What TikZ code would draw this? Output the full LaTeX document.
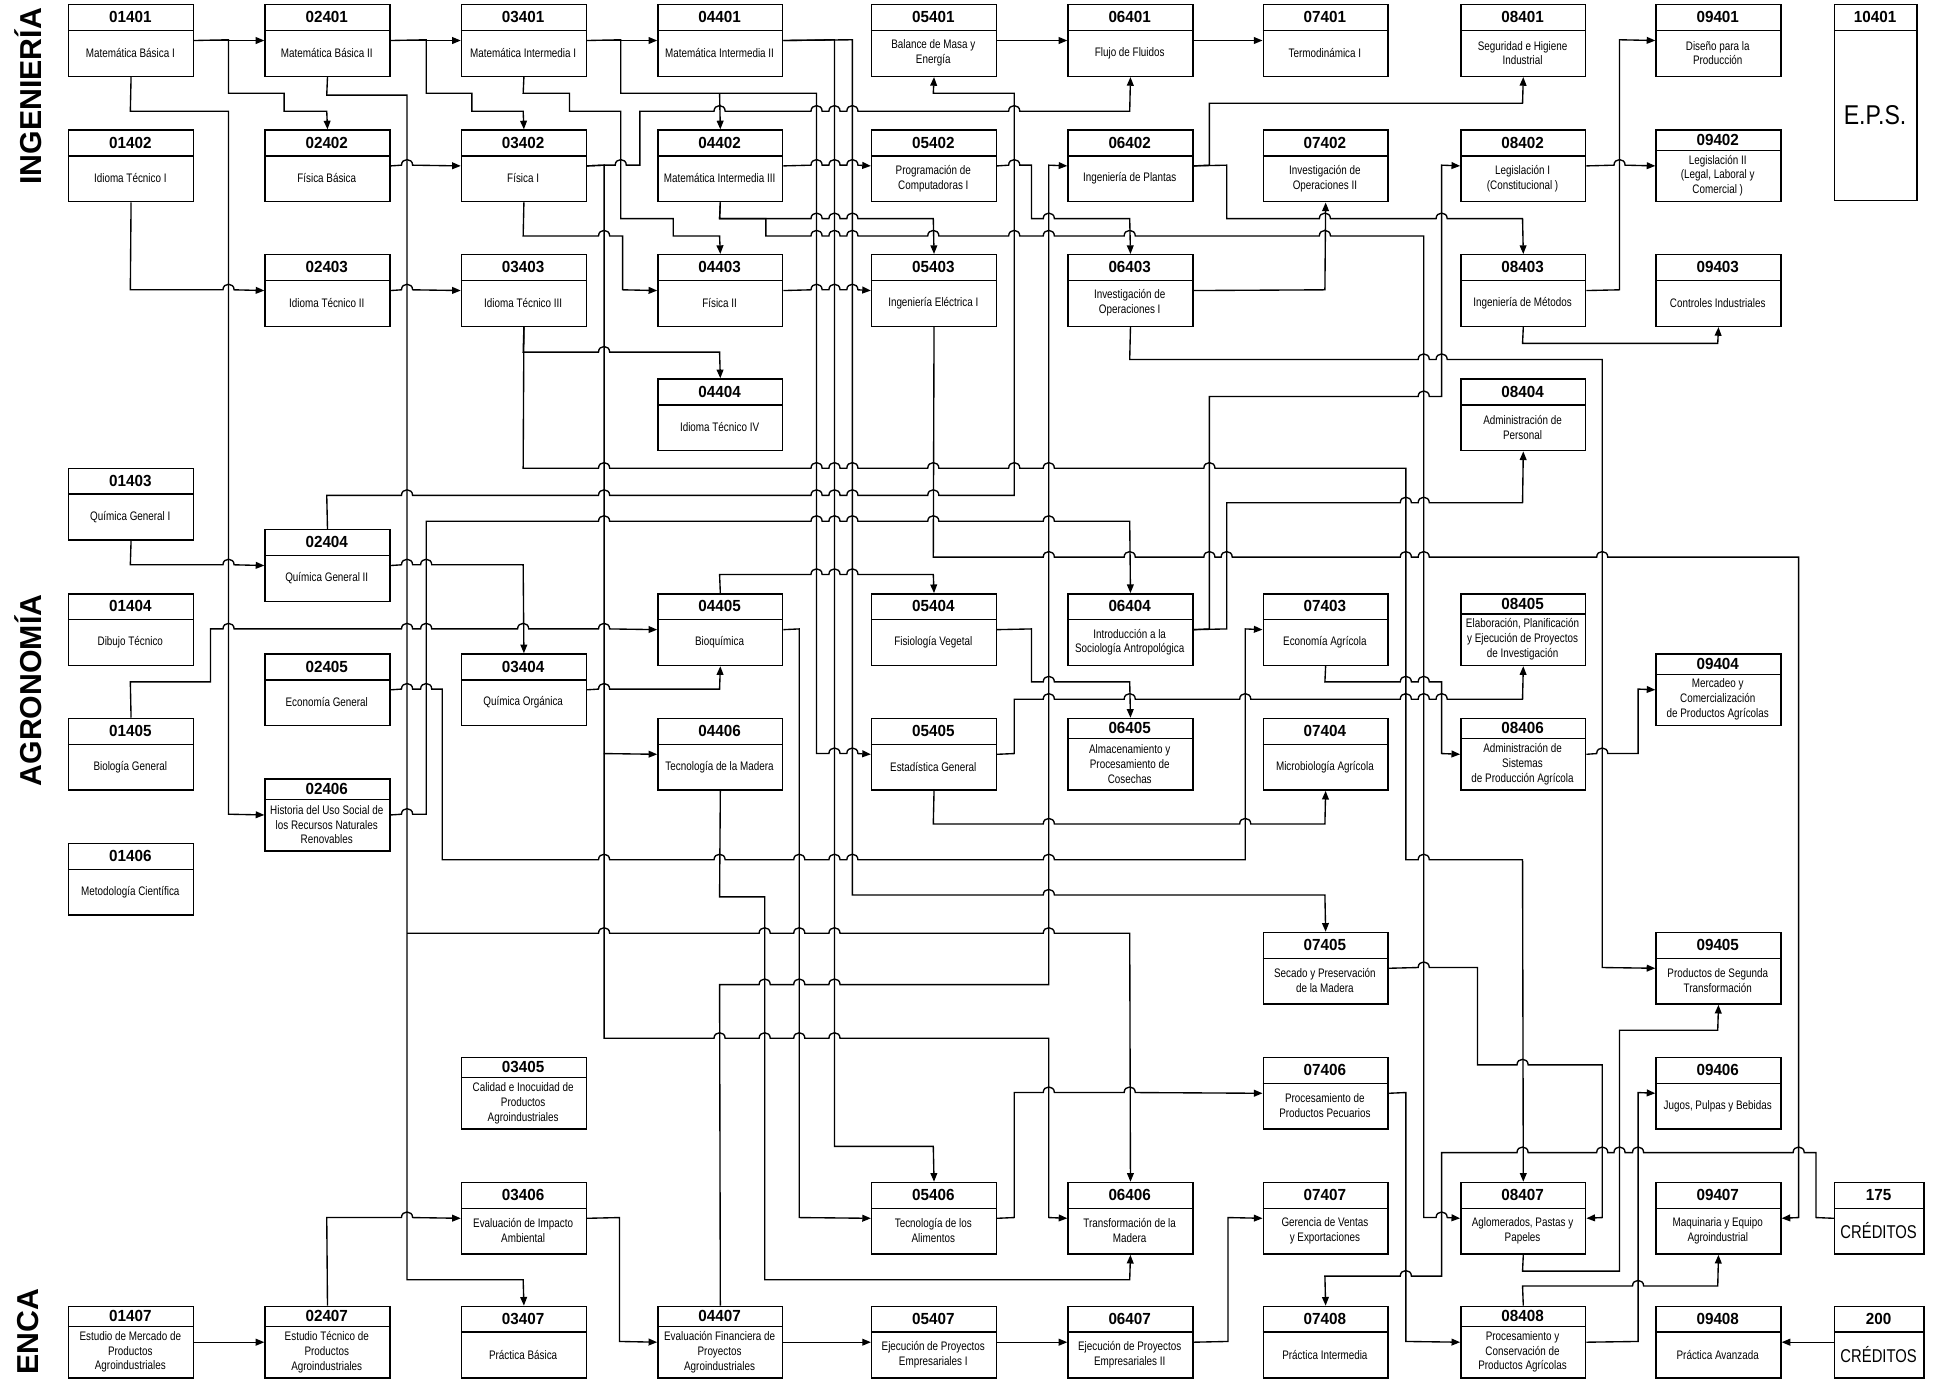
\documentclass[tikz,border=0pt]{standalone}
\usepackage{fontspec}
\usetikzlibrary{arrows.meta}
\setmainfont{Liberation Sans}
\newfontfamily\narrowf[FakeStretch=0.8]{Liberation Sans}
\newfontfamily\epsf[FakeStretch=0.85]{Liberation Sans}
\newfontfamily\codef[FakeStretch=0.95]{Liberation Sans}
\newfontfamily\sidef{Liberation Sans}

\newcommand\jmp[2]{-- ({#1-4.5},#2) .. controls ({#1-4.5},{#2-6}) and ({#1+4.5},{#2-6}) .. ({#1+4.5},#2)}
\newcommand\jmpl[2]{-- ({#1+4.5},#2) .. controls ({#1+4.5},{#2-6}) and ({#1-4.5},{#2-6}) .. ({#1-4.5},#2)}

\tikzset{
  con/.style={line width=1.1pt},
  arr/.style={con,-{Triangle[length=7pt,width=5.5pt]}},
  boxn/.style={draw,line width=1.2pt,minimum width=101pt,minimum height=58pt,inner sep=0pt,anchor=north west},
  boxline/.style={line width=1.2pt},
  codet/.style={font=\codef\bfseries\fontsize{13}{14}\selectfont,inner sep=0pt},
  desct/.style={font=\narrowf\fontsize{10}{12}\selectfont,align=center,inner sep=0pt},
  sidet/.style={font=\sidef\bfseries\fontsize{24.5}{26}\selectfont,inner sep=0pt,rotate=90},
  credt/.style={font=\narrowf\fontsize{15}{16}\selectfont,inner sep=0pt},
}

\newcommand\course[5]{%
  \node[boxn] (n#1) at (#2,#3) {};
  \draw[boxline] (#2,{#3+#4}) -- ({#2+101},{#3+#4});
  \node[codet] (c#1) at ({#2+50.5},{#3+#4/2}) {#1};
  \node[desct] (d#1) at ({#2+50.5},{#3+(58+#4)/2}) {#5};
}

\begin{document}
\begin{tikzpicture}[x=1pt,y=-1pt]
\useasboundingbox (0,0) rectangle (1568,1116);

% side labels
\node[sidet] (lab1) at (23,78) {INGENIERÍA};
\node[sidet] (lab2) at (23,559) {AGRONOMÍA};
\node[sidet] (lab3) at (23,1078) {ENCA};

% courses
\course{01401}{55}{3.2}{21.5}{Matemática Básica I}
\course{01402}{55}{104.7}{21.5}{Idioma Técnico I}
\course{01403}{55}{378.5}{21.5}{Química General I}
\course{01404}{55}{480.1}{21.5}{Dibujo Técnico}
\course{01405}{55}{581}{21.5}{Biología General}
\course{01406}{55}{682.2}{21.5}{Metodología Científica}
\course{01407}{55}{1056.9}{17}{Estudio de Mercado de\\Productos\\Agroindustriales}
\course{02401}{214}{3.2}{21.5}{Matemática Básica II}
\course{02402}{214}{104.7}{21.5}{Física Básica}
\course{02403}{214}{205.6}{21.5}{Idioma Técnico II}
\course{02404}{214}{428.2}{21.5}{Química General II}
\course{02405}{214}{528.8}{21.5}{Economía General}
\course{02406}{214}{630.1}{17}{Historia del Uso Social de\\los Recursos Naturales\\Renovables}
\course{02407}{214}{1056.9}{17}{Estudio Técnico de\\Productos\\Agroindustriales}
\course{03401}{373}{3.2}{21.5}{Matemática Intermedia I}
\course{03402}{373}{104.7}{21.5}{Física I}
\course{03403}{373}{205.6}{21.5}{Idioma Técnico III}
\course{03404}{373}{528.8}{21.5}{Química Orgánica}
\course{03405}{373}{855.4}{17}{Calidad e Inocuidad de\\Productos\\Agroindustriales}
\course{03406}{373}{956.6}{21.5}{Evaluación de Impacto\\Ambiental}
\course{03407}{373}{1056.9}{21.5}{Práctica Básica}
\course{04401}{532}{3.2}{21.5}{Matemática Intermedia II}
\course{04402}{532}{104.7}{21.5}{Matemática Intermedia III}
\course{04403}{532}{205.6}{21.5}{Física II}
\course{04404}{532}{306.2}{21.5}{Idioma Técnico IV}
\course{04405}{532}{480.1}{21.5}{Bioquímica}
\course{04406}{532}{581}{21.5}{Tecnología de la Madera}
\course{04407}{532}{1056.9}{17}{Evaluación Financiera de\\Proyectos\\Agroindustriales}
\course{05401}{705}{3.2}{21.5}{Balance de Masa y\\Energía}
\course{05402}{705}{104.7}{21.5}{Programación de\\Computadoras I}
\course{05403}{705}{205.6}{21.5}{Ingeniería Eléctrica I}
\course{05404}{705}{480.1}{21.5}{Fisiología Vegetal}
\course{05405}{705}{581}{21.5}{Estadística General}
\course{05406}{705}{956.6}{21.5}{Tecnología de los\\Alimentos}
\course{05407}{705}{1056.9}{21.5}{Ejecución de Proyectos\\Empresariales I}
\course{06401}{864}{3.2}{21.5}{Flujo de Fluidos}
\course{06402}{864}{104.7}{21.5}{Ingeniería de Plantas}
\course{06403}{864}{205.6}{21.5}{Investigación de\\Operaciones I}
\course{06404}{864}{480.1}{21.5}{Introducción a la\\Sociología Antropológica}
\course{06405}{864}{581}{17}{Almacenamiento y\\Procesamiento de\\Cosechas}
\course{06406}{864}{956.6}{21.5}{Transformación de la\\Madera}
\course{06407}{864}{1056.9}{21.5}{Ejecución de Proyectos\\Empresariales II}
\course{07401}{1022}{3.2}{21.5}{Termodinámica I}
\course{07402}{1022}{104.7}{21.5}{Investigación de\\Operaciones II}
\course{07403}{1022}{480.1}{21.5}{Economía Agrícola}
\course{07404}{1022}{581}{21.5}{Microbiología Agrícola}
\course{07405}{1022}{754.2}{21.5}{Secado y Preservación\\de la Madera}
\course{07406}{1022}{855.4}{21.5}{Procesamiento de\\Productos Pecuarios}
\course{07407}{1022}{956.6}{21.5}{Gerencia de Ventas\\y Exportaciones}
\course{07408}{1022}{1056.9}{21.5}{Práctica Intermedia}
\course{08401}{1182}{3.2}{21.5}{Seguridad e Higiene\\Industrial}
\course{08402}{1182}{104.7}{21.5}{Legislación I\\(Constitucional )}
\course{08403}{1182}{205.6}{21.5}{Ingeniería de Métodos}
\course{08404}{1182}{306.2}{21.5}{Administración de\\Personal}
\course{08405}{1182}{480.1}{17}{Elaboración, Planificación\\y Ejecución de Proyectos\\de Investigación}
\course{08406}{1182}{581}{17}{Administración de\\Sistemas\\de Producción Agrícola}
\course{08407}{1182}{956.6}{21.5}{Aglomerados, Pastas y\\Papeles}
\course{08408}{1182}{1056.9}{17}{Procesamiento y\\Conservación de\\Productos Agrícolas}
\course{09401}{1340}{3.2}{21.5}{Diseño para la\\Producción}
\course{09402}{1340}{104.7}{17}{Legislación II\\(Legal, Laboral y\\Comercial )}
\course{09403}{1340}{205.6}{21.5}{Controles Industriales}
\course{09404}{1340}{528.8}{17}{Mercadeo y\\Comercialización\\de Productos Agrícolas}
\course{09405}{1340}{754.2}{21.5}{Productos de Segunda\\Transformación}
\course{09406}{1340}{855.4}{21.5}{Jugos, Pulpas y Bebidas}
\course{09407}{1340}{956.6}{21.5}{Maquinaria y Equipo\\Agroindustrial}
\course{09408}{1340}{1056.9}{21.5}{Práctica Avanzada}

% special boxes
\node[boxn,minimum width=66.5pt,minimum height=158.7pt] (n10401) at (1484.6,3.2) {};
\draw[boxline] (1484.6,24.7) -- (1551.1,24.7);
\node[codet] (c10401) at (1517.85,13.95) {10401};
\node[font=\epsf\fontsize{22}{24}\selectfont,inner sep=0pt] (eps) at (1517.85,93) {E.P.S.};

\node[boxn,minimum width=72.3pt] (n175) at (1484.6,956.6) {};
\draw[boxline] (1484.6,978.1) -- (1556.9,978.1);
\node[codet] (c175) at (1520.75,967.35) {175};
\node[credt] (cr175) at (1520.75,996.3) {CRÉDITOS};

\node[boxn,minimum width=72.3pt] (n200) at (1484.6,1056.9) {};
\draw[boxline] (1484.6,1078.4) -- (1556.9,1078.4);
\node[codet] (c200) at (1520.75,1067.65) {200};
\node[credt] (cr200) at (1520.75,1096.6) {CRÉDITOS};

% connectors
\draw[arr] (n01401.east) -- (n02401.west);
\draw[arr] (n01401.east) -- (185,32.2) -- (185,75.5) -- (230,75.5) -- (230,90) -- (264.5,90) -- (n02402.north);
\draw[arr] (n01401.south) -- (105.5,90) -- (185,90) -- (185,659.1) -- (n02406.west);
\draw[arr] (n01402.south) -- (105.5,234.6) \jmp{185}{234.6} -- (n02403.west);
\draw[arr] (n02401.east) -- (n03401.west);
\draw[arr] (n02401.east) -- (345,32.2) -- (345,75.5) -- (382,75.5) -- (382,90) -- (423.5,90) -- (n03402.north);
\draw[arr] (n02401.south) -- (264.5,77) -- (329.5,77) -- (329.5,1036) -- (423.5,1036) -- (n03407.north);
\coordinate (j7) at (329.5,755.5);
\draw[arr] (j7) \jmp{489}{755.5} \jmp{619}{755.5} \jmp{647}{755.5} \jmp{675.5}{755.5} \jmp{849}{755.5} -- (914.5,755.5) -- (n06406.north);
\draw[arr] (n02402.east) \jmp{329.5}{133.7} -- (n03402.west);
\draw[arr] (n02403.east) \jmp{329.5}{234.6} -- (n03403.west);
\draw[arr] (n03401.east) -- (n04401.west);
\draw[arr] (n03401.east) -- (502.5,32.2) -- (502.5,75.5) -- (661,75.5) -- (661,610) \jmp{675.5}{610} \jmp{690}{610} -- (n05405.west);
\coordinate (j11) at (582.5,75.5);
\draw[arr] (j11) -- (n04402.north);
\draw[arr] (n03401.south) -- (423.5,75.5) -- (461,75.5) -- (461,90) -- (502.5,90) -- (502.5,177) -- (545,177) -- (545,191) -- (582.5,191) -- (n04403.north);
\draw[arr] (n03402.east) -- (489,133.7) \jmp{502.5}{133.7} -- (518,133.7) -- (518,90) \jmp{582.5}{90} \jmp{661}{90} \jmp{675.5}{90} \jmp{690}{90} \jmp{821}{90} -- (914.5,90) -- (n06401.south);
\draw[arr] (n03402.east) -- (489,133.7) -- (489,610) -- (n04406.west);
\coordinate (j13) at (489,610);
\draw[arr] (j13) -- (489,840.5) \jmp{582.5}{840.5} \jmp{619}{840.5} \jmp{647}{840.5} \jmp{675.5}{840.5} -- (849,840.5) -- (849,985.6) -- (n06406.west);
\draw[arr] (n03402.south) -- (423.5,191) \jmp{489}{191} -- (504,191) -- (504,234.6) -- (n04403.west);
\draw[arr] (n03403.south) -- (423.5,285) \jmp{489}{285} -- (582.5,285) -- (n04404.north);
\draw[arr] (n03403.south) -- (423.5,379) \jmp{489}{379} \jmp{661}{379} \jmp{675.5}{379} \jmp{690}{379} \jmp{755.5}{379} \jmp{821}{379} \jmp{849}{379} \jmp{979}{379} -- (1138,379) -- (1138,696) \jmp{1152.5}{696} -- (1232.5,696) -- (n08407.north);
\draw[arr] (n04401.east) -- (690,32.2) -- (690,724.5) \jmp{849}{724.5} -- (1072.5,724.5) -- (n07405.north);
\draw[arr] (n04401.east) -- (675.5,32.2) -- (675.5,928) -- (755.5,928) -- (n05406.north);
\draw[arr] (n04402.east) \jmp{661}{133.7} \jmp{675.5}{133.7} \jmp{690}{133.7} -- (n05402.west);
\draw[arr] (n04403.east) \jmp{661}{234.6} \jmp{675.5}{234.6} \jmp{690}{234.6} -- (n05403.west);
\draw[arr] (n04402.south) -- (582.5,177) \jmp{661}{177} \jmp{675.5}{177} \jmp{690}{177} -- (755.5,177) -- (n05403.north);
\draw[arr] (n04402.south) -- (582.5,177) -- (620,177) -- (620,191) \jmp{661}{191} \jmp{675.5}{191} \jmp{690}{191} \jmp{755.5}{191} \jmp{821}{191} \jmp{849}{191} \jmp{914.5}{191} \jmp{1072.5}{191} -- (1152.5,191) -- (1152.5,985.6) \jmp{1167}{985.6} -- (n08407.west);
\draw[arr] (n05401.east) -- (n06401.west);
\draw[arr] (n06401.east) -- (n07401.west);
\draw[arr] (n05402.east) \jmp{821}{133.7} -- (835,133.7) -- (835,177) \jmp{849}{177} -- (914.5,177) -- (n06403.north);
\draw[arr] (n02404.north) -- (264.5,401) \jmp{329.5}{401} \jmp{489}{401} \jmp{661}{401} \jmp{675.5}{401} \jmp{690}{401} \jmp{755.5}{401} -- (821,401) -- (821,75.5) -- (755.5,75.5) -- (n05401.south);
\draw[arr] (n04407.north) -- (582.5,797) \jmp{619}{797} \jmp{647}{797} \jmp{675.5}{797} -- (849,797) -- (849,133.7) -- (n06402.west);
\draw[arr] (n06402.east) -- (979,133.7) -- (979,83.6) -- (1232.5,83.6) -- (n08401.south);
\draw[arr] (n06402.east) -- (993,133.7) -- (993,177) \jmp{1072.5}{177} \jmp{1167}{177} -- (1232.5,177) -- (n08403.north);
\draw[arr] (n06403.east) -- (1072.5,234.6) -- (n07402.south);
\draw[arr] (n06403.south) -- (914.5,291) \jmp{1152.5}{291} \jmp{1167}{291} -- (1297,291) -- (1297,783.2) -- (n09405.west);
\draw[arr] (n05403.south) -- (755.5,451) \jmp{849}{451} \jmp{914.5}{451} \jmp{979}{451} \jmp{993}{451} \jmp{1138}{451} \jmp{1152.5}{451} \jmp{1297}{451} -- (1456,451) -- (1456,985.6) -- (n09407.east);
\draw[arr] (n06404.east) -- (979,509.1) -- (979,321) \jmp{1152.5}{321} -- (1167,321) -- (1167,133.7) -- (n08402.west);
\draw[arr] (n06404.east) -- (993,509.1) -- (993,407) \jmp{1138}{407} \jmp{1152.5}{407} -- (1232.5,407) -- (n08404.south);
\draw[arr] (n08402.east) \jmp{1311}{133.7} -- (n09402.west);
\draw[arr] (n08403.east) -- (1311,234.6) -- (1311,32.2) -- (n09401.west);
\draw[arr] (n08403.south) -- (1232.5,278) -- (1390.5,278) -- (n09403.south);
\draw[arr] (n01403.south) -- (105.5,457.2) \jmp{185}{457.2} -- (n02404.west);
\draw[arr] (n02404.east) \jmp{329.5}{457.2} \jmp{345}{457.2} -- (423.5,457.2) -- (n03404.north);
\draw[arr] (n01405.north) -- (105.5,552) -- (170.4,552) -- (170.4,509.1) \jmp{185}{509.1} \jmp{329.5}{509.1} \jmp{345}{509.1} \jmp{423.5}{509.1} \jmp{489}{509.1} -- (n04405.west);
\draw[arr] (n02406.east) \jmp{329.5}{659.1} -- (345,659.1) -- (345,422) \jmp{489}{422} \jmp{661}{422} \jmp{675.5}{422} \jmp{690}{422} \jmp{755.5}{422} \jmp{849}{422} -- (914.5,422) -- (n06404.north);
\draw[arr] (n02405.east) \jmp{329.5}{557.8} \jmp{345}{557.8} -- (358,557.8) -- (358,696) \jmp{489}{696} \jmp{582.5}{696} \jmp{647}{696} \jmp{675.5}{696} \jmp{690}{696} \jmp{849}{696} -- (1008,696) -- (1008,509.1) -- (n07403.west);
\draw[arr] (n03404.east) \jmp{489}{557.8} -- (582.5,557.8) -- (n04405.south);
\draw[arr] (n04405.north) -- (582.5,465) \jmp{661}{465} \jmp{675.5}{465} \jmp{690}{465} -- (755.5,465) -- (n05404.north);
\draw[arr] (n04405.east) -- (647,509.1) -- (647,985.6) -- (n05406.west);
\draw[arr] (n05404.east) -- (835,509.1) -- (835,552) \jmp{849}{552} -- (914.5,552) -- (n06405.north);
\draw[arr] (n05405.east) -- (821,610) -- (821,566) \jmp{849}{566} \jmp{914.5}{566} \jmp{1008}{566} \jmp{1138}{566} \jmp{1152.5}{566} \jmp{1167}{566} -- (1232.5,566) -- (n08405.south);
\draw[arr] (n05405.south) -- (755.5,667) \jmp{849}{667} \jmp{1008}{667} -- (1072.5,667) -- (n07404.south);
\draw[arr] (n07403.south) -- (1072.5,552) \jmp{1138}{552} \jmp{1152.5}{552} -- (1167,552) -- (1167,610) -- (n08406.west);
\draw[arr] (n08406.east) \jmp{1297}{610} -- (1326,610) -- (1326,557.8) -- (n09404.west);
\draw[arr] (n04406.south) -- (582.5,726) -- (619,726) -- (619,1036) -- (914.5,1036) -- (n06406.south);
\draw[arr] (n05406.east) -- (821,985.6) -- (821,884.4) \jmp{849}{884.4} \jmp{914.5}{884.4} -- (n07406.west);
\draw[arr] (n07405.east) \jmp{1152.5}{783.2} -- (1196,783.2) -- (1196,862) \jmp{1232.5}{862} -- (1297,862) -- (1297,985.6) -- (n08407.east);
\draw[arr] (n08407.south) -- (1232.5,1029) -- (1311,1029) -- (1311,834) -- (1390.5,834) -- (n09405.south);
\draw[arr] (n07406.east) -- (1138,884.4) -- (1138,1085.9) -- (n08408.west);
\draw[arr] (n08408.east) -- (1326,1085.9) -- (1326,884.4) -- (n09406.west);
\draw[arr] (n08408.north) -- (1232.5,1041) \jmp{1326}{1041} -- (1390.5,1041) -- (n09407.south);
\draw[arr] (n175.west) -- (1470,985.6) -- (1470,933) \jmpl{1456}{933} \jmpl{1326}{933} \jmpl{1311}{933} \jmpl{1297}{933} \jmpl{1232.5}{933} -- (1167,933) -- (1167,1033) \jmpl{1138}{1033} -- (1072.5,1033) -- (n07408.north);
\draw[arr] (n200.west) -- (n09408.east);
\draw[arr] (n01407.east) -- (n02407.west);
\draw[arr] (n02407.north) -- (264.5,985.6) \jmp{329.5}{985.6} -- (n03406.west);
\draw[arr] (n03406.east) -- (501.5,985.6) -- (501.5,1085.9) -- (n04407.west);
\draw[arr] (n04407.east) -- (n05407.west);
\draw[arr] (n05407.east) -- (n06407.west);
\draw[arr] (n06407.east) -- (994,1085.9) -- (994,985.6) -- (n07407.west);
\end{tikzpicture}
\end{document}
